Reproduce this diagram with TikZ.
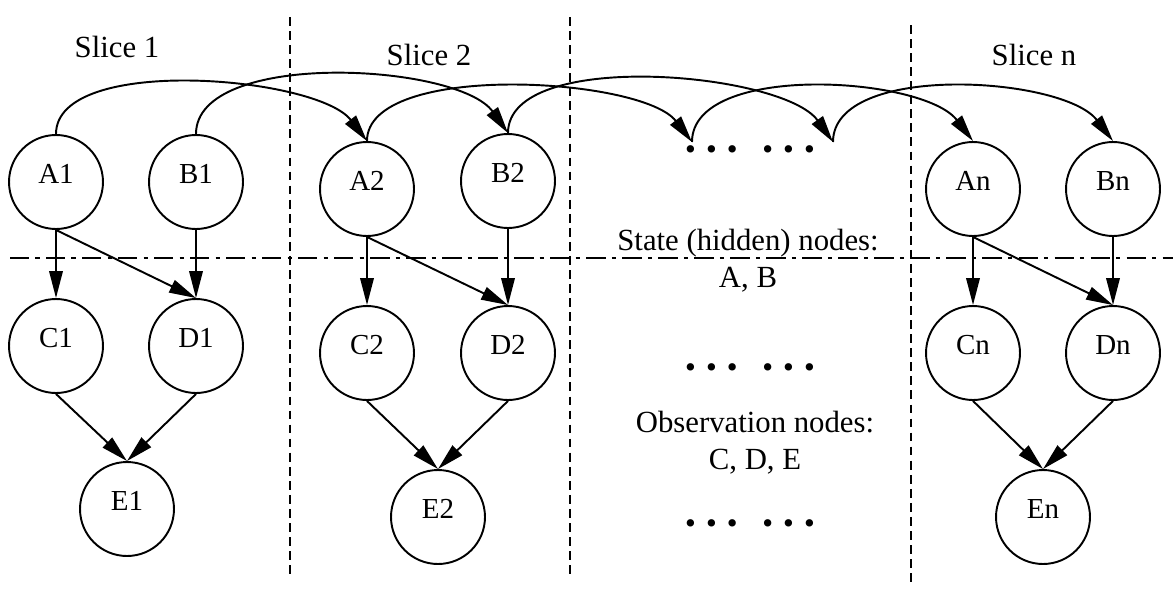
\documentclass[tikz,border=0pt]{standalone}
\usepackage{fontspec}
\setmainfont{Liberation Serif}
\usetikzlibrary{arrows.meta}
\newcommand\rowGap{164}
\newcommand\dotRow{\textbullet\hspace{0.33em}\textbullet\hspace{0.33em}\textbullet\hspace{0.8em}\textbullet\hspace{0.33em}\textbullet\hspace{0.33em}\textbullet}

\begin{document}
\begin{tikzpicture}[
    x=0.02cm, y=-0.02cm,
    var/.style={%
      draw,
      circle,
      line width=1.1pt,
      minimum size=1.88cm,
      inner sep=0pt,
      text height=0.7em,
      text depth=0.5em,
      font=\fontsize{16.5}{18}\selectfont,
    },
    note/.style={%
      align=center,
      font=\fontsize{17.5}{21}\selectfont,
    },
    link/.style={%
      -{Triangle[length=0.54cm,width=0.27cm]},
      line width=1.1pt,
    },
    sep/.style={%
      line width=0.8pt,
      dash pattern=on 5pt off 3pt,
    },
    layer/.style={%
      line width=1.7pt,
      dash pattern=on 11pt off 3.5pt on 2.5pt off 3.5pt,
    },
  ]
    \useasboundingbox (0,0) rectangle (1173,592);

    \draw [sep] (290,17) -- (290,575);
    \draw [sep] (570,17) -- (570,575);
    \draw [sep] (911,25) -- (911,583);
    \draw [layer] (10,258) -- (1173,258);

    \node [note] (S1) at (117,47) {Slice 1};
    \node [note] (S2) at (429,55) {Slice 2};
    \node [note] (Sn) at (1034,55) {Slice n};

    \node [var] (A1) at (56,182) {A1};
    \path (A1) ++(140,0) node [var] (B1) {B1};
    \path (A1) ++(0,\rowGap) node [var] (C1) {C1};
    \path (B1) ++(0,\rowGap) node [var] (D1) {D1};
    \path (C1) ++(71,163) node [var] (E1) {E1};

    \node [var] (A2) at (367,189) {A2};
    \path (A2) ++(141,-8) node [var] (B2) {B2};
    \path (A2) ++(0,\rowGap) node [var] (C2) {C2};
    \path (C2) ++(141,0) node [var] (D2) {D2};
    \path (C2) ++(71,\rowGap) node [var] (E2) {E2};

    \node [var] (An) at (973,189) {An};
    \path (An) ++(140,0) node [var] (Bn) {Bn};
    \path (An) ++(0,\rowGap) node [var] (Cn) {Cn};
    \path (Bn) ++(0,\rowGap) node [var] (Dn) {Dn};
    \path (Cn) ++(70,\rowGap) node [var] (En) {En};

    \coordinate (gapA) at (692,142);
    \coordinate (gapB) at (833,142);
    \node [note] (dotsTop) at (750,153) {\dotRow};
    \node [note] (dotsMid) at (750,371) {\dotRow};
    \node [note] (dotsLow) at (750,527) {\dotRow};
    \node [note] (hidden) at (748,261) {State (hidden) nodes:\\A, B};
    \node [note] (observed) at (755,443) {Observation nodes:\\C, D, E};

    \draw [link] (A1.north) .. controls +(0,-80) and +(-50,-65) .. (A2.north);
    \draw [link] (B1.north) .. controls +(0,-85) and +(-50,-70) .. (B2.north);
    \draw [link] (A2.north) .. controls +(0,-80) and +(-50,-65) .. (gapA);
    \draw [link] (B2.north) .. controls +(0,-85) and +(-50,-70) .. (gapB);
    \draw [link] (gapA) .. controls +(0,-80) and +(-50,-65) .. (An.north);
    \draw [link] (gapB) .. controls +(0,-80) and +(-50,-65) .. (Bn.north);

    \draw [link] (A1.south) -- (C1.north);
    \draw [link] (A1.south) -- (D1.north);
    \draw [link] (B1.south) -- (D1.north);
    \draw [link] (C1.south) -- (E1.north);
    \draw [link] (D1.south) -- (E1.north);

    \draw [link] (A2.south) -- (C2.north);
    \draw [link] (A2.south) -- (D2.north);
    \draw [link] (B2.south) -- (D2.north);
    \draw [link] (C2.south) -- (E2.north);
    \draw [link] (D2.south) -- (E2.north);

    \draw [link] (An.south) -- (Cn.north);
    \draw [link] (An.south) -- (Dn.north);
    \draw [link] (Bn.south) -- (Dn.north);
    \draw [link] (Cn.south) -- (En.north);
    \draw [link] (Dn.south) -- (En.north);
\end{tikzpicture}
\end{document}
